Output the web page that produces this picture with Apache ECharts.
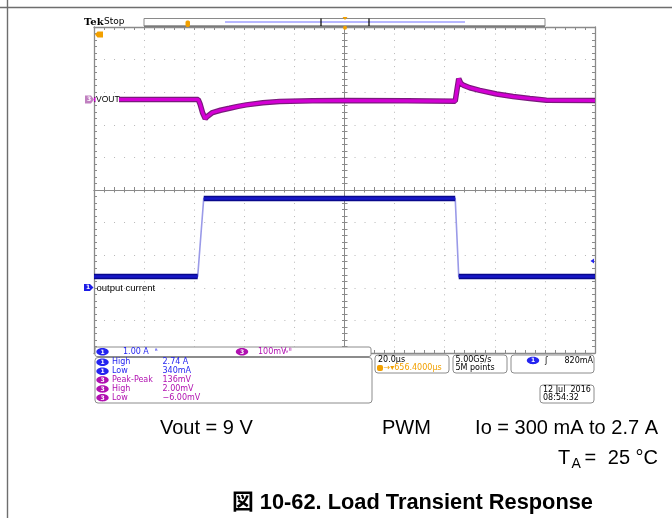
<!DOCTYPE html>
<html><head><meta charset="utf-8">
<script src="https://cdn.jsdelivr.net/npm/echarts@6/dist/echarts.min.js"></script>
<style>html,body{margin:0;padding:0;background:#fff;}#c{width:672px;height:518px;}</style>
</head><body><div id="c"></div>
<script>
// ---- data (time in µs relative to trigger, 20 µs/div) ----
const voutTime = [-100, -58.4, -57.6, -56.6, -55.6, -54.8, -52.7, -49.5, -45.9, -42.5, -39.2, -32.6, -25.9, -12.8, 0, 25, 44.2, 45.0, 45.6, 46.4, 47.4, 50, 54, 60.7, 67.3, 74, 80.6, 100];
const voutMv   = [0, 0, -15, -42, -59, -52, -40, -33, -27, -21, -16.5, -10, -6, -4, -3, -4, -5, 35, 64, 50, 44, 36, 28, 17, 9, 3, -2, -3];
const curTime  = [-100, -58.6, -56.2, 44.2, 45.6, 100];
const curAmps  = [0.34, 0.34, 2.73, 2.73, 0.34, 0.34];
const measChannels = [1, 1, 3, 3, 3];
const measLabels   = ['High', 'Low', 'Peak-Peak', 'High', 'Low'];
const measValues   = ['2.74 A', '340mA', '136mV', '2.00mV', '\u22126.00mV'];

// ---- scope settings ----
const MV_PER_DIV = 100, A_PER_DIV = 1;
const VOUT_POS_DIV = 2.776;   // channel 3 ground marker, divisions above centre
const CUR_POS_DIV = -2.99;    // channel 1 ground marker

const GRID_C = '#8a8a8a', DOT_C = '#b8b8b8';
const BLUE = '#2424f0', PURPLE = '#b010b0', ORANGE = '#f2a000';
const SCOPE_FONT = '"DejaVu Sans"';

function pairs(xs, ys) { return xs.map((x, i) => [x, ys[i]]); }
const curThick = [];
for (let i = 0; i < curTime.length - 1; i++) {
  if (curAmps[i] === curAmps[i + 1]) { curThick.push([curTime[i], curAmps[i]], [curTime[i + 1], curAmps[i + 1]], [curTime[i + 1], null]); }
}

function frameX(pos, extra) {
  return Object.assign({
    type: 'value', min: -100, max: 100, interval: 20, position: pos,
    axisLine: { show: true, onZero: false, lineStyle: { color: GRID_C, width: 1.3 } },
    axisTick: { show: true, inside: true, length: 3, lineStyle: { color: GRID_C } },
    minorTick: { show: true, splitNumber: 5, length: 3, lineStyle: { color: GRID_C } },
    axisLabel: { show: false }, splitLine: { show: false }
  }, extra || {});
}
function frameY(pos, extra) {
  return Object.assign({
    type: 'value', min: -5, max: 5, interval: 1, position: pos,
    axisLine: { show: true, onZero: false, lineStyle: { color: GRID_C, width: 1.3 } },
    axisTick: { show: true, inside: true, length: 3, lineStyle: { color: GRID_C } },
    minorTick: { show: true, splitNumber: 5, length: 3, lineStyle: { color: GRID_C } },
    axisLabel: { show: false }, splitLine: { show: false }
  }, extra || {});
}

const xAxes = [
  frameX('bottom', { splitLine: { show: true, lineStyle: { color: DOT_C, width: 1, type: [1, 5.52] } } }),
  frameX('top'),
  frameX('bottom', { axisLine: { show: true, onZero: true, onZeroAxisIndex: 0, lineStyle: { color: GRID_C, width: 1 } } }),
  frameX('bottom', { axisLine: { show: true, onZero: true, onZeroAxisIndex: 0, lineStyle: { color: GRID_C, width: 1 } },
    axisTick: { show: true, inside: false, length: 2.5, lineStyle: { color: GRID_C } },
    minorTick: { show: true, splitNumber: 5, length: 2.5, lineStyle: { color: GRID_C } } })
];
const yAxes = [
  frameY('left', { splitLine: { show: true, lineStyle: { color: DOT_C, width: 1, type: [1, 9.02] } } }),
  frameY('right'),
  frameY('left', { axisLine: { show: true, onZero: true, onZeroAxisIndex: 0, lineStyle: { color: GRID_C, width: 1 } } }),
  frameY('left', { axisLine: { show: true, onZero: true, onZeroAxisIndex: 0, lineStyle: { color: GRID_C, width: 1 } },
    axisTick: { show: true, inside: false, length: 2.5, lineStyle: { color: GRID_C } },
    minorTick: { show: true, splitNumber: 5, length: 2.5, lineStyle: { color: GRID_C } } }),
  { type: 'value', show: false, min: (-5 - VOUT_POS_DIV) * MV_PER_DIV, max: (5 - VOUT_POS_DIV) * MV_PER_DIV },
  { type: 'value', show: false, min: (-5 - CUR_POS_DIV) * A_PER_DIV, max: (5 - CUR_POS_DIV) * A_PER_DIV }
];

// ---- graphic helpers ----
function T(x, y, s, fill, font, align, vAlign) {
  return { type: 'text', x: x, y: y, z: 100, silent: true,
    style: { text: s, fill: fill, font: font, align: align || 'left', verticalAlign: vAlign || 'middle',
      textAlign: align || 'left', textVerticalAlign: vAlign || 'middle' } };
}
function R(x, y, w, h, stroke, fill, r, lw) {
  return { type: 'rect', z: 99, silent: true, shape: { x: x, y: y, width: w, height: h, r: r || 0 },
    style: { stroke: stroke, fill: fill || 'none', lineWidth: lw || 1 } };
}
function L(x1, y1, x2, y2, c, w) {
  return { type: 'line', z: 99, silent: true, shape: { x1: x1, y1: y1, x2: x2, y2: y2 }, style: { stroke: c, lineWidth: w || 1 } };
}
function badge(cx, cy, ch) {
  const col = ch === 1 ? BLUE : PURPLE;
  return [
    { type: 'ellipse', z: 100, silent: true, shape: { cx: cx, cy: cy, rx: 6.2, ry: 3.7 }, style: { fill: col } },
    T(cx, cy + 0.3, String(ch), '#fff', 'bold 6px ' + SCOPE_FONT, 'center')
  ];
}
const SF = '8px ' + SCOPE_FONT;
const g = [];
// document frame lines
g.push(L(0, 7.5, 672, 7.5, '#6e6e6e', 1.4), L(7.5, 0, 7.5, 518, '#6e6e6e', 1.4));
// header
g.push(T(84, 22, 'Tek', '#000', 'bold 10px "DejaVu Serif"'), T(104, 22, 'Stop', '#000', '9px ' + SCOPE_FONT));
g.push(R(144, 18.5, 401, 7.5, '#8a8a8a', '#fff', 0, 1), L(144, 26.3, 545, 26.3, '#7a7a7a', 1.6));
g.push(L(225, 22, 465, 22, '#7070ff', 1.2));
g.push(L(321, 18.5, 321, 26, '#000', 1.2), L(369, 18.5, 369, 26, '#000', 1.2));
g.push(R(186, 21, 3.5, 5.5, ORANGE, ORANGE, 1, 1));
g.push({ type: 'polygon', z: 100, silent: true, shape: { points: [[342.5, 17], [347.5, 17], [345, 20]] }, style: { fill: ORANGE } });
g.push({ type: 'circle', z: 100, silent: true, shape: { cx: 345, cy: 27.8, r: 2 }, style: { fill: ORANGE } });
g.push({ type: 'polygon', z: 100, silent: true, shape: { points: [[95, 34.5], [97.5, 31.5], [103, 31.5], [103, 37.5], [97.5, 37.5]] }, style: { fill: ORANGE } });
// channel markers
g.push({ type: 'polygon', z: 100, silent: true, shape: { points: [[85, 95.5], [91, 95.5], [94, 99.5], [91, 103.5], [85, 103.5]] }, style: { fill: '#c080c0' } });
g.push(T(89, 99.7, '3', '#fff', 'bold 6px ' + SCOPE_FONT, 'center'));
g.push(R(95.5, 94.5, 23.5, 9.5, null, '#fff', 0, 0));
g.push(T(96, 99.5, 'VOUT', '#000', '8.5px "Liberation Sans"'));
g.push({ type: 'polygon', z: 100, silent: true, shape: { points: [[84, 284], [90, 284], [93.5, 287.5], [90, 291], [84, 291]] }, style: { fill: '#1c1ce6' } });
g.push(T(88, 287.7, '1', '#fff', 'bold 6px ' + SCOPE_FONT, 'center'));
g.push(T(96.5, 288, 'output current', '#000', '9.5px "Liberation Sans"'));
g.push({ type: 'polygon', z: 100, silent: true, shape: { points: [[590.5, 261], [594, 258.5], [594, 263.5]] }, style: { fill: BLUE } });
// bottom readouts
g.push(R(95, 347, 276, 9.5, '#8c8c8c', '#fff', 2, 1));
g.push(...badge(102.5, 351.8, 1), T(123, 352, '1.00 A', BLUE, SF), T(155, 351.5, '\u1d2e', BLUE, '6px ' + SCOPE_FONT));
g.push(...badge(242, 351.8, 3), T(258, 352, '100mV', PURPLE, SF), T(283, 351.5, '\u223f\u1d2e', PURPLE, '7px ' + SCOPE_FONT));
g.push(R(95, 357.5, 277, 45.5, '#8c8c8c', '#fff', 3, 1));
const rowY = [362.3, 371.3, 380, 389, 397.7];
measLabels.forEach((lab, i) => {
  const col = measChannels[i] === 1 ? BLUE : PURPLE;
  g.push(...badge(102.5, rowY[i], measChannels[i]), T(112, rowY[i], lab, col, SF), T(162.5, rowY[i], measValues[i], col, SF));
});
g.push(R(375, 355, 74, 18, '#8c8c8c', '#fff', 3, 1), T(378, 359.7, '20.0\u00b5s', '#000', SF));
g.push(R(377.5, 365.5, 5, 5, ORANGE, ORANGE, 1, 1), T(383.5, 368.3, '\u2192\u25be656.4000\u00b5s', ORANGE, SF));
g.push(R(453, 355, 54, 18, '#8c8c8c', '#fff', 3, 1), T(455.5, 359.7, '5.00GS/s', '#000', SF), T(455.5, 368.3, '5M points', '#000', SF));
g.push(R(511, 355, 83, 18, '#8c8c8c', '#fff', 3, 1), ...badge(533, 360.5, 1), T(545, 360.5, '\u0283', '#000', SF), T(593, 360.5, '820mA', '#000', SF, 'right'));
g.push(R(540, 385, 54, 18, '#8c8c8c', '#fff', 3, 1), T(543, 389.5, '12 Jul  2016', '#000', SF), T(543, 398.3, '08:54:32', '#000', SF));
// captions
const CF = '20px "Liberation Sans"';
g.push(T(160, 428, 'Vout = 9 V', '#000', CF), T(382, 428, 'PWM', '#000', CF), T(658, 428, 'Io = 300 mA to 2.7 A', '#000', CF, 'right'));
g.push(T(558, 458, 'T', '#000', CF), T(571.5, 464.5, 'A', '#000', '14px "Liberation Sans"'), T(584.5, 458, '=', '#000', CF), T(658, 458, '25 \u00b0C', '#000', CF, 'right'));
g.push(T(232, 502.5, '\u56f3 10-62. Load Transient Response', '#000', 'bold 21.8px "Liberation Sans", "Noto Sans CJK JP"'));

const option = {
  animation: false,
  backgroundColor: '#ffffff',
  grid: { left: 94, top: 27, width: 501, height: 326, outerBoundsMode: 'none', containLabel: false },
  xAxis: xAxes,
  yAxis: yAxes,
  series: [
    { type: 'line', xAxisIndex: 0, yAxisIndex: 4, data: pairs(voutTime, voutMv), showSymbol: false, silent: true, z: 5,
      lineStyle: { color: '#7a1a7c', width: 5.5 } },
    { type: 'line', xAxisIndex: 0, yAxisIndex: 4, data: pairs(voutTime, voutMv), showSymbol: false, silent: true, z: 6,
      lineStyle: { color: '#d400d4', width: 3.2 } },
    { type: 'line', xAxisIndex: 0, yAxisIndex: 5, data: pairs(curTime, curAmps), showSymbol: false, silent: true, z: 5,
      lineStyle: { color: '#9a9ae8', width: 1.6 } },
    { type: 'line', xAxisIndex: 0, yAxisIndex: 5, data: curThick, showSymbol: false, silent: true, z: 6, connectNulls: false,
      lineStyle: { color: '#08088c', width: 5.5 } },
    { type: 'line', xAxisIndex: 0, yAxisIndex: 5, data: curThick, showSymbol: false, silent: true, z: 7, connectNulls: false,
      lineStyle: { color: '#1818c8', width: 2.5 } }
  ],
  graphic: { elements: g }
};
const chart = echarts.init(document.getElementById('c'), null, { renderer: 'canvas', width: 672, height: 518 });
chart.setOption(option);
</script></body></html>
